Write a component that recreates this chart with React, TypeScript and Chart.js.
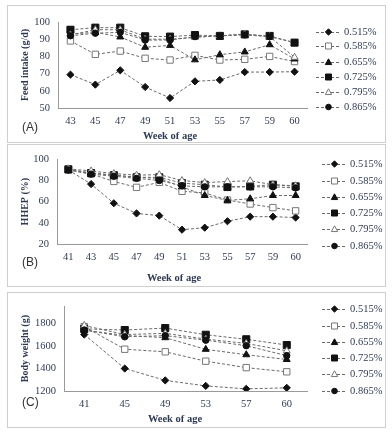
import React, { useEffect, useRef } from 'react';
import { Chart, registerables } from 'chart.js';

Chart.register(...registerables);

// ---------- data ----------
const seriesLabels = ['0.515%', '0.585%', '0.655%', '0.725%', '0.795%', '0.865%'];
const markerStyles = ['rectRot', 'rect', 'triangle', 'rect', 'triangle', 'circle'];
const markerFilled = [true, false, true, true, false, true];

// (A) Feed intake (g/d)
const weeksA = ['43', '45', '47', '49', '51', '53', '55', '57', '59', '60'];
const feed0515 = [69.4, 63.6, 71.9, 62.2, 55.8, 65.5, 66.3, 70.9, 70.9, 71.1];
const feed0585 = [89.0, 81.2, 83.1, 78.9, 77.9, 80.6, 77.9, 78.3, 80.0, 77.0];
const feed0655 = [93.0, 94.0, 91.3, 85.3, 86.4, 78.0, 81.0, 82.6, 86.8, 78.5];
const feed0725 = [95.5, 96.7, 96.7, 91.7, 91.5, 92.4, 91.9, 92.8, 91.9, 88.0];
const feed0795 = [92.5, 95.5, 95.5, 90.0, 90.0, 91.0, 92.0, 93.0, 91.5, 79.5];
const feed0865 = [92.0, 93.5, 94.0, 89.5, 89.5, 91.5, 92.0, 92.5, 91.5, 88.0];

// (B) HHEP (%)
const weeksB = ['41', '43', '45', '47', '49', '51', '53', '55', '57', '59', '60'];
const hhep0515 = [90, 76.6, 58.5, 48.9, 46.8, 33.5, 35.4, 41.5, 45.8, 45.8, 45.0];
const hhep0585 = [90, 86.2, 79.1, 73.5, 78.2, 69.8, 68.3, 61.5, 57.8, 54.4, 51.3];
const hhep0655 = [90, 87, 85, 83, 82, 74, 65.8, 61.2, 62.7, 65.8, 65.8];
const hhep0725 = [90.5, 87, 85, 83, 83, 77.5, 76, 73.8, 74.4, 76, 74.4];
const hhep0795 = [91, 89, 86.5, 85, 85.5, 80, 78, 79, 79.7, 76, 75];
const hhep0865 = [90, 86, 84, 82, 80, 75, 74, 74, 74, 74, 73];

// (C) Body weight (g)
const weeksC = ['41', '45', '49', '53', '57', '60'];
const bw0515 = [1700, 1399, 1294, 1245, 1219, 1228];
const bw0585 = [1770, 1570, 1547, 1464, 1407, 1370];
const bw0655 = [1740, 1692, 1672, 1569, 1521, 1479];
const bw0725 = [1750, 1740, 1757, 1698, 1658, 1607];
const bw0795 = [1780, 1700, 1710, 1660, 1621, 1556];
const bw0865 = [1740, 1680, 1690, 1650, 1601, 1513];

const ticksA = [50, 60, 70, 80, 90, 100];
const ticksB = [20, 40, 60, 80, 100];
const ticksC = [1200, 1400, 1600, 1800];

// ---------- styling ----------
const TEXT = '#2e3a55';
const SERIF = '"Liberation Serif", "DejaVu Serif", serif';
const SANS = '"Liberation Sans", Arial, sans-serif';
const LINE = '#6a6a6a';
const CANVAS_W = 376;

type Area = { left: number; right: number; top: number; bottom: number };
type Spec = {
  top: number;
  height: number;
  categories: string[];
  series: number[][];
  yMin: number;
  yMax: number;
  yTicks: number[];
  yTitle: string;
  panel: string;
  area: Area;
  legendX: number;
  legendRows: number[];
  xTitle: [number, number];
  panelPos: [number, number];
};

function markerRadius(style: string, filled: boolean) {
  if (style === 'rect') return filled ? 5 : 4.5;
  if (style === 'triangle') return 4;
  if (style === 'rectRot') return 3.6;
  return 3.2;
}

function drawMarker(ctx: CanvasRenderingContext2D, style: string, filled: boolean, x: number, y: number, s: number) {
  ctx.save();
  ctx.setLineDash([]);
  ctx.beginPath();
  if (style === 'circle') {
    ctx.arc(x, y, s, 0, Math.PI * 2);
  } else if (style === 'rect') {
    ctx.rect(x - s, y - s, 2 * s, 2 * s);
  } else if (style === 'rectRot') {
    ctx.moveTo(x, y - s);
    ctx.lineTo(x + s, y);
    ctx.lineTo(x, y + s);
    ctx.lineTo(x - s, y);
    ctx.closePath();
  } else {
    ctx.moveTo(x, y - s);
    ctx.lineTo(x + s, y + s * 0.8);
    ctx.lineTo(x - s, y + s * 0.8);
    ctx.closePath();
  }
  ctx.fillStyle = filled ? '#111' : '#fff';
  ctx.fill();
  ctx.lineWidth = 1;
  ctx.strokeStyle = filled ? '#111' : '#777';
  ctx.stroke();
  ctx.restore();
}

function Panel({ spec }: { spec: Spec }) {
  const ref = useRef<HTMLCanvasElement>(null);
  useEffect(() => {
    const canvas = ref.current!;
    const { area } = spec;
    const overlay = {
      id: 'overlay',
      afterDraw(chart: any) {
        const ctx: CanvasRenderingContext2D = chart.ctx;
        ctx.save();
        // legend
        seriesLabels.forEach((lab, i) => {
          const y = spec.legendRows[i];
          const x0 = spec.legendX;
          ctx.beginPath();
          ctx.setLineDash([3, 2]);
          ctx.strokeStyle = LINE;
          ctx.lineWidth = 1;
          ctx.moveTo(x0, y + 0.5);
          ctx.lineTo(x0 + 25, y + 0.5);
          ctx.stroke();
          const st = markerStyles[i];
          const f = markerFilled[i];
          const s = st === 'rect' ? 3 : st === 'triangle' ? 3.2 : st === 'rectRot' ? 3.2 : 2.8;
          drawMarker(ctx, st, f, x0 + 12.5, y, s);
          ctx.setLineDash([]);
          ctx.fillStyle = TEXT;
          ctx.font = `10.5px ${SERIF}`;
          ctx.textAlign = 'left';
          ctx.textBaseline = 'middle';
          ctx.fillText(lab, x0 + 28, y);
        });
        // x title
        ctx.font = `bold 10.5px ${SERIF}`;
        ctx.textAlign = 'center';
        ctx.textBaseline = 'middle';
        ctx.fillStyle = TEXT;
        ctx.fillText('Week of age', spec.xTitle[0], spec.xTitle[1]);
        // panel label
        ctx.font = `12px ${SANS}`;
        ctx.textAlign = 'left';
        ctx.fillStyle = '#333';
        ctx.fillText(spec.panel, spec.panelPos[0], spec.panelPos[1]);
        ctx.restore();
      },
    };

    const datasets = spec.series.map((d, i) => {
      const st = markerStyles[i];
      const f = markerFilled[i];
      return {
        label: seriesLabels[i],
        data: d,
        borderColor: LINE,
        borderWidth: 1,
        borderDash: [3, 2],
        fill: false,
        tension: 0,
        pointStyle: st,
        pointRadius: markerRadius(st, f),
        pointBackgroundColor: f ? '#111' : '#fff',
        pointBorderColor: f ? '#111' : '#777',
        pointBorderWidth: 1,
        order: 5 - i,
      };
    });

    const chart = new Chart(canvas, {
      type: 'line',
      data: { labels: spec.categories, datasets },
      options: {
        animation: false,
        responsive: false,
        devicePixelRatio: 1,
        layout: { padding: { top: area.top, right: CANVAS_W - area.right, left: 0, bottom: 0 } },
        plugins: { legend: { display: false }, tooltip: { enabled: false } },
        scales: {
          x: {
            type: 'category',
            offset: true,
            grid: { display: false, drawTicks: false },
            border: { display: true, color: '#9a9a9a', width: 1 },
            ticks: { font: { family: SERIF, size: 10.5 }, color: TEXT, padding: 7, autoSkip: false, maxRotation: 0 },
            afterFit: (s: any) => {
              s.height = spec.height - area.bottom;
            },
          },
          y: {
            min: spec.yMin,
            max: spec.yMax,
            grid: { display: false, drawTicks: false },
            border: { display: true, color: '#9a9a9a', width: 1 },
            ticks: {
              font: { family: SERIF, size: 10.5 },
              color: TEXT,
              padding: 8,
              callback: (v: any) => String(v),
            },
            afterBuildTicks: (s: any) => {
              s.ticks = spec.yTicks.map((v) => ({ value: v }));
            },
            title: {
              display: true,
              text: spec.yTitle,
              color: TEXT,
              font: { family: SERIF, size: 10, weight: 'bold' },
              padding: { top: 11, bottom: 0 },
            },
            afterFit: (s: any) => {
              s.width = area.left;
            },
          },
        },
      },
      plugins: [overlay],
    } as any);
    return () => chart.destroy();
  }, [spec]);
  return (
    <canvas
      ref={ref}
      width={CANVAS_W}
      height={spec.height}
      style={{ position: 'absolute', left: 8, top: spec.top, width: CANVAS_W, height: spec.height }}
    />
  );
}

const specA: Spec = {
  top: 6,
  height: 136,
  categories: weeksA,
  series: [feed0515, feed0585, feed0655, feed0725, feed0795, feed0865],
  yMin: 50,
  yMax: 100,
  yTicks: ticksA,
  yTitle: 'Feed intake (g/d)',
  panel: '(A)',
  area: { left: 50, right: 299, top: 16, bottom: 102 },
  legendX: 308,
  legendRows: [26, 40, 56, 71, 86, 101],
  xTitle: [162, 130],
  panelPos: [14, 122],
};

const specB: Spec = {
  top: 145,
  height: 142,
  categories: weeksB,
  series: [hhep0515, hhep0585, hhep0655, hhep0725, hhep0795, hhep0865],
  yMin: 20,
  yMax: 100,
  yTicks: ticksB,
  yTitle: 'HHEP (%)',
  panel: '(B)',
  area: { left: 49, right: 299, top: 12, bottom: 99 },
  legendX: 314,
  legendRows: [19, 36, 52, 68, 84, 101],
  xTitle: [166, 133],
  panelPos: [14, 118],
};

const specC: Spec = {
  top: 292,
  height: 136,
  categories: weeksC,
  series: [bw0515, bw0585, bw0655, bw0725, bw0795, bw0865],
  yMin: 1200,
  yMax: 1950,
  yTicks: ticksC,
  yTitle: 'Body weight (g)',
  panel: '(C)',
  area: { left: 56, right: 299, top: 12, bottom: 99 },
  legendX: 314,
  legendRows: [17, 34, 50, 66, 82, 99],
  xTitle: [167, 127],
  panelPos: [14, 111],
};

const boxes = [
  { top: 5, height: 138 },
  { top: 144, height: 143 },
  { top: 292, height: 136 },
];

export default function App() {
  return (
    <div style={{ position: 'fixed', left: 0, top: 0, width: 392, height: 436, background: '#fff' }}>
      {boxes.map((b, i) => (
        <div
          key={i}
          style={{
            position: 'absolute',
            left: 7,
            top: b.top,
            width: 379,
            height: b.height,
            border: '1px solid #cfcfcf',
            boxSizing: 'border-box',
          }}
        />
      ))}
      <Panel spec={specA} />
      <Panel spec={specB} />
      <Panel spec={specC} />
    </div>
  );
}
